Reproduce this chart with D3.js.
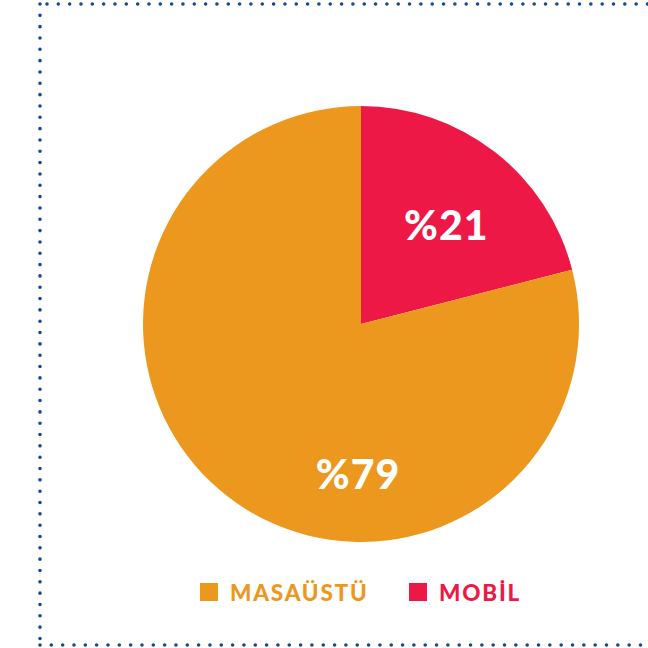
<!DOCTYPE html>
<html><head><meta charset="utf-8">
<script src="https://cdn.jsdelivr.net/npm/d3@7"></script>
<style>html,body{margin:0;padding:0;background:#fff;}svg{display:block;}</style>
</head><body>
<svg id="c" width="648" height="648"></svg>
<script>
const categories = ["MOBİL", "MASAÜSTÜ"];
const values = [21, 79];
const labels = ["%21", "%79"];
const legendOrder = ["MASAÜSTÜ", "MOBİL"];
const colors = {"MOBİL": "#EE1846", "MASAÜSTÜ": "#EC981E"};

const svg = d3.select("#c");
const W = 648, H = 648;
const cx = 361, cy = 324, R = 218;

// dotted frame
const dotColor = "#134b8e";
const frame = svg.append("g").attr("fill", "none").attr("stroke", dotColor)
  .attr("stroke-width", 3.6).attr("stroke-linecap", "round").attr("stroke-dasharray", "0 11.33");
frame.append("line").attr("x1", 40).attr("y1", 4).attr("x2", 40).attr("y2", 645);
frame.append("line").attr("x1", 47).attr("y1", 4).attr("x2", 660).attr("y2", 4);
frame.append("line").attr("x1", 40).attr("y1", 645).attr("x2", 660).attr("y2", 645);

const data = categories.map((c, i) => ({cat: c, value: values[i], label: labels[i]}));
const pie = d3.pie().sort(null).value(d => d.value);
const arc = d3.arc().innerRadius(0).outerRadius(R);
const arcs = pie(data);

const g = svg.append("g").attr("transform", `translate(${cx},${cy})`);
g.selectAll("path").data(arcs).enter().append("path")
  .attr("d", arc).attr("fill", d => colors[d.data.cat]);

// labels
const labelPos = d => {
  if (d.index === 0) {
    const a = (d.startAngle + d.endAngle) / 2 + 0.05;
    const r = R * 0.6;
    return [r * Math.sin(a), -r * Math.cos(a)];
  } else {
    const a = Math.PI + 0.02;
    const r = R * 0.69;
    return [r * Math.sin(a), -r * Math.cos(a)];
  }
};
g.selectAll("text.lbl").data(arcs).enter().append("text")
  .attr("class", "lbl")
  .attr("x", d => labelPos(d)[0])
  .attr("y", d => labelPos(d)[1])
  .attr("dy", "0.36em")
  .attr("text-anchor", "middle")
  .attr("font-family", "Lato, sans-serif")
  .attr("font-weight", 900)
  .attr("font-size", 41)
  .attr("letter-spacing", 1)
  .attr("fill", "#fff")
  .text(d => d.data.label);

// legend
const legend = svg.append("g");
const legX = d3.scaleOrdinal().domain(legendOrder).range([200, 409]);
const items = legend.selectAll("g").data(legendOrder).enter().append("g")
  .attr("transform", d => `translate(${legX(d)},583)`);
items.append("rect").attr("width", 18).attr("height", 18).attr("fill", d => colors[d]);
items.append("text").attr("x", 30).attr("y", 17.5)
  .attr("font-family", "Lato, sans-serif").attr("font-weight", 900)
  .attr("font-size", 22.5).attr("letter-spacing", 1.8)
  .attr("fill", d => colors[d]).text(d => d);
</script>
</body></html>
